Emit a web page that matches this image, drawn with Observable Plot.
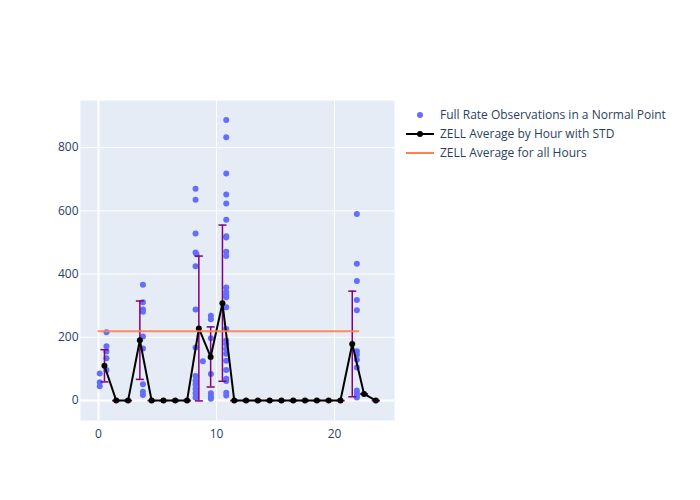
<!DOCTYPE html>
<html>
<head>
<meta charset="utf-8">
<script src="https://cdn.jsdelivr.net/npm/d3@7"></script>
<script src="https://cdn.jsdelivr.net/npm/@observablehq/plot@0.6"></script>
<style>
  body { margin: 0; background: #fff; font-family: "Open Sans", sans-serif; }
  #wrap { position: relative; width: 700px; height: 500px; }
  #legend { position: absolute; left: 404px; top: 105px; font-size: 12px; color: #2a3f5f; }
  .item { display: flex; align-items: center; height: 19px; white-space: nowrap; }
  .item svg { margin-right: 6px; }
</style>
</head>
<body>
<div id="wrap"></div>
<script>
// Observations (hour of day, value)
const obsHour = [
  0.1, 0.1, 0.1,
  0.67, 0.67, 0.67, 0.67, 0.67,
  3.76, 3.76, 3.76, 3.76, 3.76, 3.76, 3.76, 3.76, 3.76,
  8.22, 8.22, 8.22, 8.22, 8.3, 8.22, 8.22, 8.22, 8.22, 8.22, 8.22, 8.22, 8.22, 8.22,
  8.84,
  9.52, 9.52, 9.52, 9.52, 9.52, 9.52, 9.52,
  10.82, 10.82, 10.82, 10.82, 10.82, 10.82, 10.82, 10.82, 10.82, 10.82, 10.82, 10.82, 10.82,
  10.82, 10.82, 10.82, 10.82, 10.82, 10.82, 10.82, 10.82, 10.82, 10.82, 10.82, 10.82, 10.82,
  21.89, 21.89, 21.89, 21.89, 21.89, 21.89, 21.89, 21.89, 21.89, 21.89, 21.89, 21.89, 21.89
];
const obsValue = [
  86, 58, 45,
  216, 172, 155, 134, 97,
  366, 311, 288, 281, 203, 165, 52, 28, 18,
  670, 635, 528, 468, 463, 425, 288, 168, 78, 63, 51, 37, 23, 10,
  124,
  268, 257, 197, 84, 23, 13, 6,
  887, 833, 718, 652, 623, 572, 520, 516, 471, 457, 358, 343, 334,
  327, 295, 226, 190, 179, 163, 148, 126, 97, 69, 62, 25, 16,
  590, 433, 378, 318, 286, 156, 145, 129, 105, 32, 23, 16, 10
];

// Hourly averages with standard deviation
const avgHour = [0.5, 1.5, 2.5, 3.5, 4.5, 5.5, 6.5, 7.5, 8.5, 9.5, 10.5, 11.5,
  12.5, 13.5, 14.5, 15.5, 16.5, 17.5, 18.5, 19.5, 20.5, 21.5, 22.5, 23.5];
const avgValue = [110, 0, 0, 191, 0, 0, 0, 0, 228, 138, 308, 0,
  0, 0, 0, 0, 0, 0, 0, 0, 0, 179, 21, 0];
const avgStd = [51, 0, 0, 124, 0, 0, 0, 0, 229, 95, 247, 0,
  0, 0, 0, 0, 0, 0, 0, 0, 0, 167, 0, 0];

// Overall average line
const allHoursX = [0, 22];
const allHoursAvg = 219;

const xTicks = [0, 10, 20];
const yTicks = [0, 200, 400, 600, 800];

const obs = obsHour.map((h, i) => ({h, v: obsValue[i]}));
const avg = avgHour.map((h, i) => ({h, v: avgValue[i], lo: avgValue[i] - avgStd[i], hi: avgValue[i] + avgStd[i]}));
const allLine = allHoursX.map(h => ({h, v: allHoursAvg}));

const capSymbol = {
  draw(context, size) {
    const r = Math.sqrt(size / Math.PI);
    context.moveTo(-r, 0);
    context.lineTo(r, 0);
  }
};

const errData = avg.flatMap(d => [{h: d.h, v: d.lo}, {h: d.h, v: d.hi}]);

const chart = Plot.plot({
  width: 700,
  height: 500,
  marginLeft: 80,
  marginRight: 306,
  marginTop: 100,
  marginBottom: 80,
  style: {fontFamily: "'Open Sans', sans-serif", fontSize: "12px", color: "#2a3f5f", background: "#fff"},
  x: {domain: [-1.53, 25.08], label: null},
  y: {domain: [-63, 949], label: null},
  marks: [
    Plot.frame({fill: "#e5ecf6", stroke: null}),
    Plot.gridX(xTicks, {stroke: "#fff", strokeOpacity: 1, strokeWidth: 1}),
    Plot.gridY(yTicks, {stroke: "#fff", strokeOpacity: 1, strokeWidth: 1}),
    Plot.ruleX([0], {stroke: "#fff", strokeWidth: 2}),
    Plot.ruleY([0], {stroke: "#fff", strokeWidth: 2}),
    Plot.axisX(xTicks, {tickSize: 0, tickPadding: 9, fill: "#2a3f5f", fontSize: 12, label: null}),
    Plot.axisY(yTicks, {tickSize: 0, tickPadding: 2, fill: "#2a3f5f", fontSize: 12, label: null}),
    Plot.dot(obs, {x: "h", y: "v", r: 3, fill: "#636efa", stroke: null}),
    Plot.ruleX(avg, {x: "h", y1: "lo", y2: "hi", stroke: "purple", strokeWidth: 1.5}),
    Plot.dot(errData, {x: "h", y: "v", symbol: capSymbol, r: 4, fill: "none", stroke: "purple", strokeWidth: 1.5}),
    Plot.line(avg, {x: "h", y: "v", stroke: "black", strokeWidth: 2}),
    Plot.dot(avg, {x: "h", y: "v", r: 3, fill: "black", stroke: null}),
    Plot.line(allLine, {x: "h", y: "v", stroke: "#ff7f50", strokeWidth: 2, strokeOpacity: 0.9})
  ]
});

const wrap = document.getElementById("wrap");
wrap.appendChild(chart);

const legend = document.createElement("div");
legend.id = "legend";
legend.innerHTML = `
  <div class="item"><svg width="30" height="12"><circle cx="16" cy="6" r="3" fill="#636efa"/></svg>Full Rate Observations in a Normal Point</div>
  <div class="item"><svg width="30" height="12"><line x1="2" y1="6" x2="32" y2="6" stroke="black" stroke-width="2"/><circle cx="16" cy="6" r="3" fill="black"/></svg>ZELL Average by Hour with STD</div>
  <div class="item"><svg width="30" height="12"><line x1="2" y1="6" x2="32" y2="6" stroke="#ff7f50" stroke-width="2"/></svg>ZELL Average for all Hours</div>
`;
wrap.appendChild(legend);
</script>
</body>
</html>
